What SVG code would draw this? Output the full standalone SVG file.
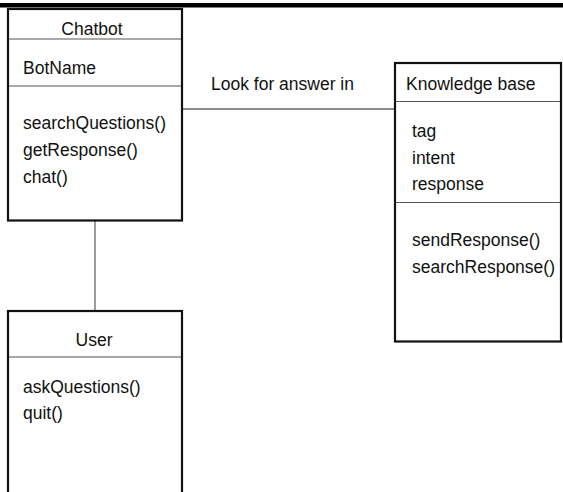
<svg xmlns="http://www.w3.org/2000/svg" width="563" height="492" viewBox="0 0 563 492">
<style>
.box{fill:#fff;stroke:#111;stroke-width:2.2}
.div{stroke:#555;stroke-width:1.2}
.conn{stroke:#666;stroke-width:1.3;fill:none}
text{font-family:"Liberation Sans",Arial,sans-serif;font-size:17.5px;fill:#111}
.c{text-anchor:middle}
</style>
<rect x="0" y="0" width="563" height="492" fill="#fff"/>
<rect x="0" y="3" width="563" height="4.5" fill="#000"/>
<g id="connectors">
<line class="conn" x1="182" y1="109" x2="395" y2="109"/>
<line class="conn" x1="95" y1="221" x2="95" y2="311"/>
<text x="211" y="90">Look for answer in</text>
</g>
<g id="chatbot">
<rect class="box" x="8" y="9" width="174" height="211.5"/>
<line class="div" x1="9" y1="39" x2="181" y2="39"/>
<line class="div" x1="9" y1="86" x2="181" y2="86"/>
<text class="c" x="92" y="35">Chatbot</text>
<text x="23" y="74">BotName</text>
<text x="23" y="129">searchQuestions()</text>
<text x="23" y="156">getResponse()</text>
<text x="23" y="183">chat()</text>
</g>
<g id="user">
<rect class="box" x="8" y="311" width="174" height="190"/>
<line class="div" x1="9" y1="357" x2="181" y2="357"/>
<text class="c" x="94" y="346">User</text>
<text x="23" y="393">askQuestions()</text>
<text x="23" y="419">quit()</text>
</g>
<g id="knowledge-base">
<rect class="box" x="395" y="63" width="166" height="278.5"/>
<line class="div" x1="396" y1="101.5" x2="560" y2="101.5"/>
<line class="div" x1="396" y1="202.5" x2="560" y2="202.5"/>
<text x="406" y="90">Knowledge base</text>
<text x="412" y="137">tag</text>
<text x="412" y="164">intent</text>
<text x="412" y="190">response</text>
<text x="412" y="246">sendResponse()</text>
<text x="412" y="273">searchResponse()</text>
</g>
</svg>
